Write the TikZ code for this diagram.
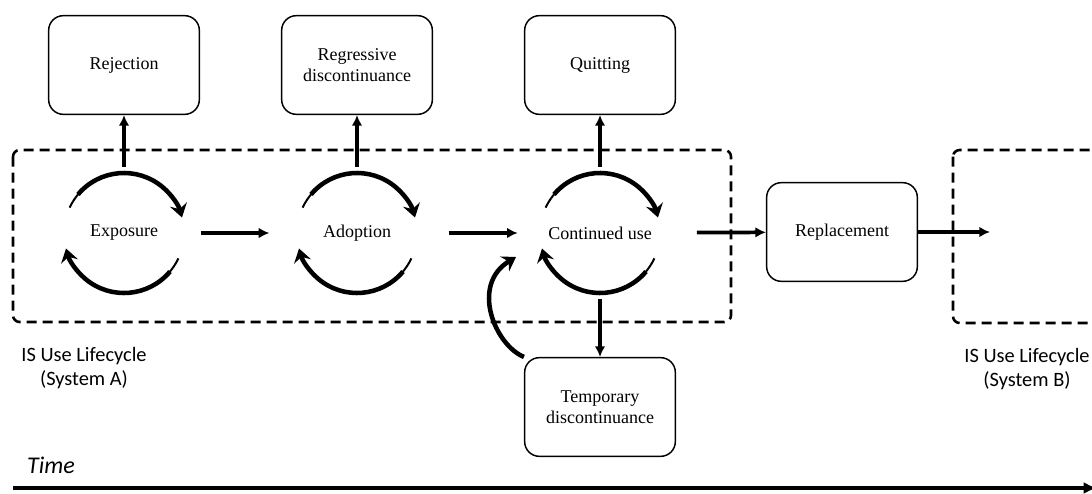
\documentclass[tikz,border=0pt]{standalone}
\usepackage{fontspec}
\setmainfont{Liberation Serif}
\newfontfamily\calibri{Carlito}
\usetikzlibrary{arrows.meta}

\begin{document}
\begin{tikzpicture}[x=0.75pt,y=-0.75pt,
    stage/.style={draw,line width=1.1pt,rounded corners=11pt,minimum width=113pt,
        minimum height=74pt,align=center,font=\fontsize{13.5}{15.5}\selectfont},
    loopnode/.style={circle,minimum size=99pt,inner sep=0pt,font=\fontsize{13.5}{15.5}\selectfont},
    flow/.style={line width=2.8pt,-{Latex[length=8pt,width=8pt]}},
    swirl/.style={line width=3.4pt,-{Stealth[length=10pt,width=13pt,inset=3.5pt]}},
    lifecycle/.style={line width=1.9pt,dash pattern=on 7.5pt off 4.5pt,rounded corners=5pt},
    caption/.style={align=center,font=\calibri\fontsize{15.3}{18}\selectfont}]
    \useasboundingbox (0,0) rectangle (1092,493);
    \clip (0,0) rectangle (1092,493);

    % lifecycle frames
    \draw[lifecycle] (13,150) rectangle (731,322);
    \draw[lifecycle] (953,150) rectangle (1120,323);

    % stages inside the lifecycle
    \node[loopnode] (exp) at (124,233) {Exposure};
    \node[loopnode] (ado) at (357,233) {Adoption};
    \node[loopnode] (cont) at (600,233) {Continued use};

    % exits
    \node[stage] (rej) at (124,65) {Rejection};
    \node[stage] (reg) at (357,65) {Regressive\\discontinuance};
    \node[stage] (quit) at (600,65) {Quitting};
    \node[stage] (temp) at (600,407) {Temporary\\discontinuance};
    \node[stage] (rep) at (842,232) {Replacement};
    \coordinate (sysB) at (990,232);
    \coordinate (back) at (516,257);

    \node[caption] (labA) at (84,368) {IS Use Lifecycle\\(System A)};
    \node[caption] (labB) at (1027,369) {IS Use Lifecycle\\(System B)};
    \node[font=\calibri\itshape\fontsize{18}{21}\selectfont] (time) at (51,465) {Time};
    \coordinate (t0) at (13,488);
    \coordinate (t1) at (1097,488);

    % cycling arrows
    \foreach \c in {exp,ado,cont} {
        \draw[line width=1.5pt] (\c.center) ++(155:45pt) arc[start angle=155,end angle=138,radius=45pt];
        \draw[swirl] (\c.center) ++(140:45pt) arc[start angle=140,end angle=15,radius=45pt];
        \draw[line width=1.5pt] (\c.center) ++(-25:45pt) arc[start angle=-25,end angle=-42,radius=45pt];
        \draw[swirl] (\c.center) ++(-40:45pt) arc[start angle=-40,end angle=-165,radius=45pt];
    }

    \draw[flow] (exp) -- (rej);
    \draw[flow] (ado) -- (reg);
    \draw[flow] (cont) -- (quit);
    \draw[flow] (cont) -- (temp);
    \draw[flow,shorten <=8pt,shorten >=16pt] (exp) -- (ado);
    \draw[flow,shorten <=19pt,shorten >=12pt] (ado) -- (cont);
    \draw[flow,shorten <=23pt] (cont) -- (rep);
    \draw[flow] (rep) -- (sysB);
    \draw[swirl] (temp.north west) .. controls (495,345) and (470,285) .. (back);

    % time axis
    \draw[line width=2.8pt,-{Latex[length=10pt,width=9pt]}] (t0) -- (t1);
\end{tikzpicture}
\end{document}
